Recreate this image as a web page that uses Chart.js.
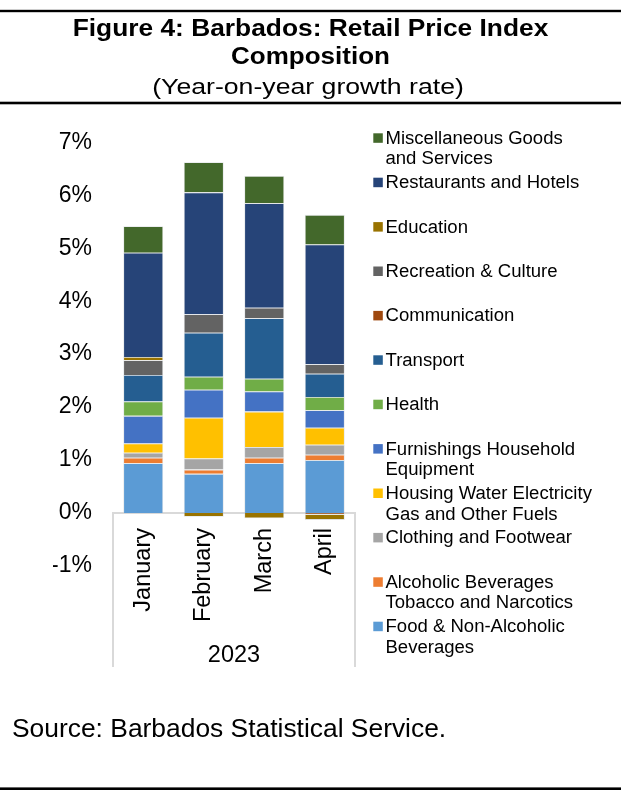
<!DOCTYPE html>
<html>
<head>
<meta charset="utf-8">
<script src="https://cdn.jsdelivr.net/npm/chart.js@4.4.1/dist/chart.umd.min.js"></script>
<style>
  html, body { margin: 0; padding: 0; background: #fff; }
  canvas { display: block; }
</style>
</head>
<body>
<canvas id="rpi" width="621" height="792"></canvas>
<script>
// categories
const months = ["January", "February", "March", "April"];
const year = "2023";

// contributions to year-on-year growth, percentage points
const food = [0.94, 0.74, 0.94, 1.0];
const alcohol = [0.105, 0.08, 0.105, 0.1];
const clothing = [0.095, 0.21, 0.2, 0.19];
const housing = [0.175, 0.77, 0.67, 0.32];
const furnishings = [0.52, 0.53, 0.38, 0.33];
const health = [0.27, 0.245, 0.24, 0.25];
const transport = [0.5, 0.83, 1.145, 0.44];
const communication = [0, 0, 0, -0.03];
const recreation = [0.28, 0.35, 0.195, 0.18];
const education = [0.06, -0.07, -0.1, -0.1];
const restaurants = [1.97, 2.3, 1.975, 2.26];
const misc = [0.5, 0.57, 0.515, 0.56];

const seriesNames = [
  "Food & Non-Alcoholic\nBeverages",
  "Alcoholic Beverages\nTobacco and Narcotics",
  "Clothing and Footwear",
  "Housing Water Electricity\nGas and Other Fuels",
  "Furnishings Household\nEquipment",
  "Health",
  "Transport",
  "Communication",
  "Recreation & Culture",
  "Education",
  "Restaurants and Hotels",
  "Miscellaneous Goods\nand Services",
];
const seriesValues = [food, alcohol, clothing, housing, furnishings, health,
  transport, communication, recreation, education, restaurants, misc];
const seriesColors = ["#5B9BD5", "#ED7D31", "#A5A5A5", "#FFC000", "#4472C4", "#70AD47",
  "#255E91", "#9E480E", "#636363", "#997300", "#264478", "#43682B"];

const yTicks = [-1, 0, 1, 2, 3, 4, 5, 6, 7];

const FONT = "'Liberation Sans', Arial, sans-serif";

function text(ctx, str, x, y, font, align, sx) {
  ctx.save();
  ctx.font = font;
  ctx.textAlign = align;
  ctx.textBaseline = "alphabetic";
  ctx.fillStyle = "#000";
  ctx.translate(x, y);
  ctx.scale(sx || 1, 1);
  ctx.fillText(str, 0, 0);
  ctx.restore();
}

function rule(ctx, y, w) {
  ctx.save();
  ctx.fillStyle = "#000";
  ctx.fillRect(0, y - w / 2, 621, w);
  ctx.restore();
}

// header, footer, category box and legend
const frame = {
  id: "frame",
  afterDraw(chart) {
    const ctx = chart.ctx;
    const xs = chart.scales.x;
    const ys = chart.scales.y;
    const zero = ys.getPixelForValue(0);

    rule(ctx, 11, 2.4);
    rule(ctx, 103, 2.6);
    rule(ctx, 788.7, 2.6);

    text(ctx, "Figure 4: Barbados: Retail Price Index", 310.5, 36, "bold 23px " + FONT, "center", 1.145);
    text(ctx, "Composition", 310.5, 64.3, "bold 23px " + FONT, "center", 1.13);
    text(ctx, "(Year-on-year growth rate)", 308, 94.3, "21.5px " + FONT, "center", 1.24);
    text(ctx, "Source: Barbados Statistical Service.", 12, 736.7, "26.4px " + FONT, "left", 1);

    // category box below the zero line
    const left = chart.chartArea.left, right = chart.chartArea.right;
    ctx.save();
    ctx.strokeStyle = "#d9d9d9";
    ctx.lineWidth = 2;
    ctx.beginPath();
    ctx.moveTo(left, zero);
    ctx.lineTo(left, 667);
    ctx.moveTo(right, zero);
    ctx.lineTo(right, 667);
    ctx.stroke();
    ctx.restore();

    // month labels, rotated
    months.forEach((m, i) => {
      ctx.save();
      ctx.translate(xs.getPixelForValue(i), zero + 15);
      ctx.rotate(-Math.PI / 2);
      ctx.font = "23.5px " + FONT;
      ctx.textAlign = "right";
      ctx.textBaseline = "middle";
      ctx.fillStyle = "#000";
      ctx.fillText(m, 0, 0);
      ctx.restore();
    });
    text(ctx, year, (left + right) / 2, 662, "23.5px " + FONT, "center", 1);

    // legend, top series first
    const sets = chart.data.datasets.slice().reverse();
    sets.forEach((ds, i) => {
      const base = 143.8 + i * 44.4;
      ctx.save();
      ctx.fillStyle = ds.backgroundColor;
      ctx.fillRect(373.3, base - 10.5, 9.5, 9.5);
      ctx.restore();
      ds.label.split("\n").forEach((line, j) => {
        text(ctx, line, 385.5, base + j * 20.6, "18px " + FONT, "left", 1.03);
      });
    });
  },
};

new Chart(document.getElementById("rpi"), {
  type: "bar",
  data: {
    labels: months,
    datasets: seriesNames.map((name, i) => ({
      label: name,
      data: seriesValues[i],
      backgroundColor: seriesColors[i],
      borderColor: "rgba(200,205,210,0.6)",
      borderWidth: 0.8,
      categoryPercentage: 1,
      barPercentage: 0.66,
    })),
  },
  options: {
    responsive: false,
    animation: false,
    devicePixelRatio: 1,
    layout: { padding: { left: 53, right: 266, top: 142.3, bottom: 226 } },
    plugins: {
      legend: { display: false },
      title: { display: false },
      tooltip: { enabled: false },
    },
    scales: {
      x: {
        stacked: true,
        position: { y: 0 },
        grid: { display: false },
        border: { display: true, color: "#d9d9d9", width: 2 },
        ticks: { display: false },
      },
      y: {
        stacked: true,
        min: -1,
        max: 7,
        afterFit: (s) => { s.width = 60; },
        afterBuildTicks: (s) => { s.ticks = yTicks.map((v) => ({ value: v })); },
        grid: { display: false, drawTicks: false },
        border: { display: false },
        ticks: {
          padding: 21,
          color: "#000",
          font: { family: FONT, size: 23 },
          callback: (v) => v + "%",
        },
      },
    },
  },
  plugins: [frame],
});
</script>
</body>
</html>
